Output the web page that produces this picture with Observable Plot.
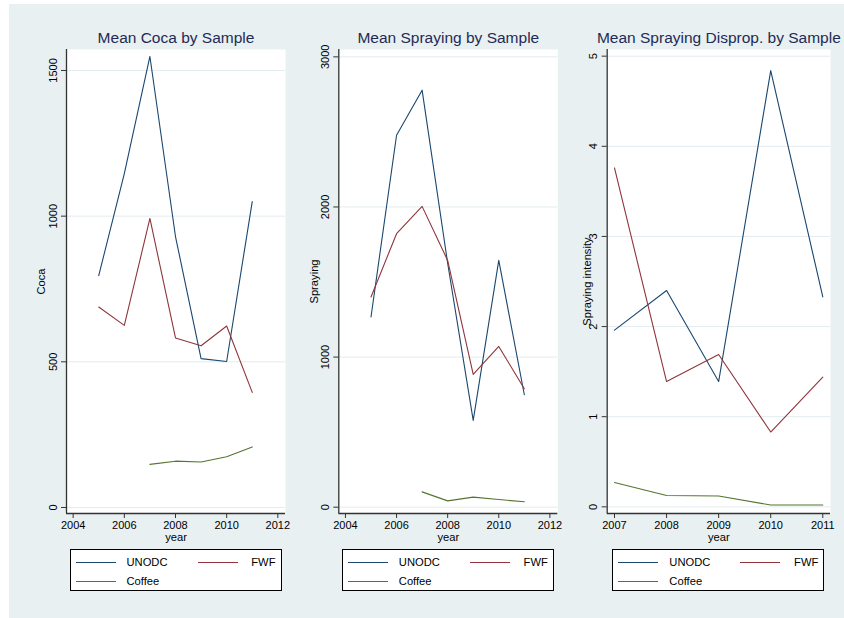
<!DOCTYPE html>
<html><head><meta charset="utf-8">
<script src="https://cdn.jsdelivr.net/npm/d3@7"></script>
<script src="https://cdn.jsdelivr.net/npm/@observablehq/plot@0.6"></script>
<style>
body{margin:0;background:#fff;font-family:"Liberation Sans",Arial,Helvetica,sans-serif;}
#page{position:relative;width:844px;height:618px;overflow:hidden;background:#fff;}
#bg{position:absolute;left:9px;top:4px;width:835px;height:614px;background:#e9f0f2;}
.panel{position:absolute;top:4px;}
.legend{position:absolute;top:549px;width:212px;height:42px;box-sizing:border-box;border:1px solid #000;background:#fff;font-size:11.2px;color:#000;}
.legend .sw{position:absolute;width:40px;height:1.2px;}
.legend .lab{position:absolute;line-height:14px;white-space:nowrap;}
</style>
</head><body>
<div id="page"><div id="bg"></div></div>
<script>
// ---- data ----
const seriesNames = ["UNODC", "FWF", "Coffee"];
const seriesColors = ["#1a476f", "#90353b", "#55752f"];

const yearsAll = [2005, 2006, 2007, 2008, 2009, 2010, 2011];
const yearsCoffee = [2007, 2008, 2009, 2010, 2011];

const cocaUNODC = [796, 1146, 1548, 930, 511, 501, 1050];
const cocaFWF = [688, 625, 992, 582, 555, 623, 395];
const cocaCoffee = [148, 159, 156, 174, 208];

const sprayUNODC = [1267, 2478, 2778, 1625, 578, 1644, 749];
const sprayFWF = [1400, 1822, 2004, 1644, 884, 1071, 789];
const sprayCoffee = [102, 42, 67, 51, 36];

const dispYears = [2007, 2008, 2009, 2010, 2011];
const dispUNODC = [1.96, 2.40, 1.39, 4.84, 2.33];
const dispFWF = [3.76, 1.39, 1.69, 0.83, 1.44];
const dispCoffee = [0.27, 0.125, 0.12, 0.02, 0.02];

const cocaYTicks = [0, 500, 1000, 1500];
const sprayYTicks = [0, 1000, 2000, 3000];
const dispYTicks = [0, 1, 2, 3, 4, 5];
const xTicksWide = [2004, 2006, 2008, 2010, 2012];
const xTicksNarrow = [2007, 2008, 2009, 2010, 2011];

const titles = ["Mean Coca by Sample", "Mean Spraying by Sample", "Mean Spraying Disprop. by Sample"];
const yLabels = ["Coca", "Spraying", "Spraying intensity"];
const xLabel = "year";

// ---- build long tables ----
function longTable(series) {
  const rows = [];
  series.forEach(([name, years, vals]) => years.forEach((yr, i) => rows.push({series: name, year: yr, value: vals[i]})));
  return rows;
}
const cocaData = longTable([["UNODC", yearsAll, cocaUNODC], ["FWF", yearsAll, cocaFWF], ["Coffee", yearsCoffee, cocaCoffee]]);
const sprayData = longTable([["UNODC", yearsAll, sprayUNODC], ["FWF", yearsAll, sprayFWF], ["Coffee", yearsCoffee, sprayCoffee]]);
const dispData = longTable([["UNODC", dispYears, dispUNODC], ["FWF", dispYears, dispFWF], ["Coffee", dispYears, dispCoffee]]);

// ---- layout ----
const FONT = '"Liberation Sans", Arial, Helvetica, sans-serif';
const gridColor = "#e3ecef";
const axisColor = "#333";
const titleColor = "#1e2b55";

const panels = [
  {data: cocaData, title: titles[0], ylabel: yLabels[0], left: 9, width: 281, mL: 57, mR: 5,
   xDomain: [2003.74, 2012.3], xTicks: xTicksWide, yDomain: [-20.6, 1572], yTicks: cocaYTicks, ylabOff: 25},
  {data: sprayData, title: titles[1], ylabel: yLabels[1], left: 290, width: 275, mL: 48.3, mR: 7.7,
   xDomain: [2003.74, 2012.31], xTicks: xTicksWide, yDomain: [-42, 3049], yTicks: sprayYTicks, ylabOff: 24},
  {data: dispData, title: titles[2], ylabel: yLabels[2], left: 565, width: 279, mL: 41.7, mR: 14,
   xDomain: [2006.86, 2011.148], xTicks: xTicksNarrow, yDomain: [-0.074, 5.074], yTicks: dispYTicks, ylabOff: 20}
];

const page = document.getElementById("page");
const H = 545, MT = 45, MB = 36;

panels.forEach(cfg => {
  const txt = {fontFamily: FONT, fill: "#000", textAnchor: "middle", lineAnchor: "middle"};
  const chart = Plot.plot({
    width: cfg.width, height: H,
    marginTop: MT, marginBottom: MB, marginLeft: cfg.mL, marginRight: cfg.mR,
    style: {background: "none", fontFamily: FONT, color: "#000", overflow: "visible"},
    x: {domain: cfg.xDomain},
    y: {domain: cfg.yDomain},
    color: {domain: seriesNames, range: seriesColors},
    marks: [
      Plot.frame({fill: "white", stroke: null}),
      Plot.ruleY(cfg.yTicks, {stroke: gridColor, strokeWidth: 1}),
      Plot.line(cfg.data, {x: "year", y: "value", z: "series", stroke: "series", strokeWidth: 1.1}),
      Plot.ruleX([cfg.xDomain[0]], {stroke: axisColor, strokeWidth: 1.3}),
      Plot.ruleY([cfg.yDomain[0]], {stroke: axisColor, strokeWidth: 1.3}),
      Plot.axisY({ticks: cfg.yTicks, tickSize: 5, tickFormat: () => "", label: null, stroke: axisColor}),
      Plot.text(cfg.yTicks, {y: d => d, text: d => String(d), frameAnchor: "left", dx: -13.5, rotate: -90, fontSize: 11, ...txt}),
      Plot.axisX({ticks: cfg.xTicks, tickSize: 5, tickFormat: () => "", label: null, stroke: axisColor}),
      Plot.text(cfg.xTicks, {x: d => d, text: d => String(d), frameAnchor: "bottom", dy: 12, fontSize: 11, ...txt}),
      Plot.text([xLabel], {text: d => d, frameAnchor: "bottom", dy: 23.5, fontSize: 11.2, ...txt}),
      Plot.text([cfg.ylabel], {text: d => d, frameAnchor: "left", dx: -cfg.ylabOff, rotate: -90, fontSize: 11.2, ...txt}),
      Plot.text([cfg.title], {text: d => d, frameAnchor: "top", dy: -11, fontSize: 15.5, ...txt, fill: titleColor})
    ]
  });
  chart.classList.add("panel");
  chart.style.left = cfg.left + "px";
  chart.style.position = "absolute";
  chart.style.top = "4px";
  page.appendChild(chart);

  // legend
  const frameCenter = cfg.left + cfg.mL + (cfg.width - cfg.mL - cfg.mR) / 2;
  const lg = document.createElement("div");
  lg.className = "legend";
  lg.style.left = (frameCenter - 106) + "px";
  const items = [
    {i: 0, sx: 5, ly: 11.5, lx: 56, align: "left"},
    {i: 1, sx: 127, ly: 11.5, lx: null, align: "right"},
    {i: 2, sx: 5, ly: 30.5, lx: 56, align: "left"}
  ];
  items.forEach(it => {
    const sw = document.createElement("div");
    sw.className = "sw";
    sw.style.left = it.sx + "px";
    sw.style.top = it.ly + "px";
    sw.style.background = seriesColors[it.i];
    lg.appendChild(sw);
    const lb = document.createElement("div");
    lb.className = "lab";
    lb.textContent = seriesNames[it.i];
    lb.style.top = (it.ly - 7) + "px";
    if (it.align === "left") lb.style.left = it.lx + "px"; else lb.style.right = "5px";
    lg.appendChild(lb);
  });
  page.appendChild(lg);
});
</script>
</body></html>
